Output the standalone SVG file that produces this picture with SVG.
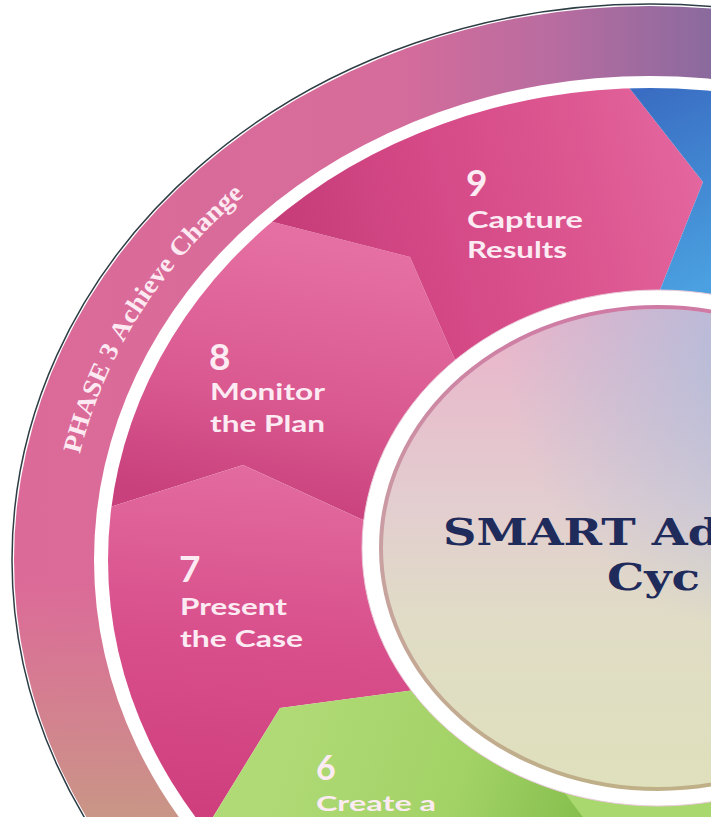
<svg xmlns="http://www.w3.org/2000/svg" width="711" height="817" viewBox="0 0 711 817">
<defs>
  <style>
    .lbl { font-family: Lato, "Open Sans", "DejaVu Sans", sans-serif; font-weight: 700; fill: #fcebf3; }
    .num { font-size: 37px; }
    .txt { font-size: 23px; }
    .title { font-family: "DejaVu Serif", "Liberation Serif", serif; font-weight: 700; font-size: 37px; fill: #1f2b5b; }
    .phase { font-family: "Liberation Serif", "DejaVu Serif", serif; font-weight: 700; font-size: 26px; fill: #fde9f1; }
  </style>
  <linearGradient id="bandH" gradientUnits="userSpaceOnUse" x1="0" y1="0" x2="711" y2="0">
    <stop offset="0" stop-color="#dc6a98"/>
    <stop offset="0.55" stop-color="#d66c9b"/>
    <stop offset="0.78" stop-color="#b86ca0"/>
    <stop offset="1" stop-color="#8a6a9e"/>
  </linearGradient>
  <linearGradient id="bandV" gradientUnits="userSpaceOnUse" x1="0" y1="580" x2="0" y2="817">
    <stop offset="0" stop-color="#d0908a" stop-opacity="0"/>
    <stop offset="1" stop-color="#c99686" stop-opacity="1"/>
  </linearGradient>
  <linearGradient id="g9" gradientUnits="userSpaceOnUse" x1="280" y1="250" x2="700" y2="150">
    <stop offset="0" stop-color="#c53c78"/>
    <stop offset="0.35" stop-color="#d44886"/>
    <stop offset="0.7" stop-color="#dc5690"/>
    <stop offset="1" stop-color="#e4679f"/>
  </linearGradient>
  <linearGradient id="g8" gradientUnits="userSpaceOnUse" x1="300" y1="240" x2="250" y2="510">
    <stop offset="0" stop-color="#e56fa2"/>
    <stop offset="0.6" stop-color="#d9588f"/>
    <stop offset="1" stop-color="#c8407c"/>
  </linearGradient>
  <linearGradient id="g7" gradientUnits="userSpaceOnUse" x1="250" y1="470" x2="220" y2="810">
    <stop offset="0" stop-color="#e26a9e"/>
    <stop offset="0.5" stop-color="#d84f8b"/>
    <stop offset="1" stop-color="#cf3f7e"/>
  </linearGradient>
  <linearGradient id="gBlue" gradientUnits="userSpaceOnUse" x1="620" y1="80" x2="711" y2="280">
    <stop offset="0" stop-color="#3868c0"/>
    <stop offset="1" stop-color="#4aa0e0"/>
  </linearGradient>
  <linearGradient id="g6" gradientUnits="userSpaceOnUse" x1="290" y1="710" x2="585" y2="810">
    <stop offset="0" stop-color="#b0da76"/>
    <stop offset="0.6" stop-color="#a2d266"/>
    <stop offset="1" stop-color="#86bf4e"/>
  </linearGradient>
  <linearGradient id="discV" x1="0" y1="0" x2="0" y2="1">
    <stop offset="0" stop-color="#eab2c9"/>
    <stop offset="0.4" stop-color="#e3cdd0"/>
    <stop offset="0.65" stop-color="#e0dcc6"/>
    <stop offset="1" stop-color="#dfe0bc"/>
  </linearGradient>
  <radialGradient id="discBlue" gradientUnits="userSpaceOnUse" cx="800" cy="340" r="300">
    <stop offset="0" stop-color="#a4bedf" stop-opacity="0.95"/>
    <stop offset="1" stop-color="#a4bedf" stop-opacity="0"/>
  </radialGradient>
  <linearGradient id="rim" x1="0" y1="0" x2="0" y2="1">
    <stop offset="0" stop-color="#cf7aa4"/>
    <stop offset="0.5" stop-color="#c9a0a2"/>
    <stop offset="1" stop-color="#bfb088"/>
  </linearGradient>
  <clipPath id="segClip">
    <ellipse cx="650" cy="560" rx="542" ry="472"/>
  </clipPath>
  <path id="phaseArc" d="M 75.9 471.8 A 583 508 0 0 1 450.6 82.6"/>
</defs>

<rect width="711" height="817" fill="#ffffff"/>

<g id="outer-ring">
  <ellipse cx="650" cy="560" rx="638" ry="556" fill="#ffffff" stroke="#2e3d45" stroke-width="1.5"/>
  <ellipse cx="650" cy="560" rx="636" ry="554" fill="url(#bandH)"/>
  <ellipse cx="650" cy="560" rx="636" ry="554" fill="url(#bandV)"/>
  <ellipse cx="650" cy="560" rx="556" ry="484" fill="#ffffff"/>
</g>

<g id="phase-label">
  <text class="phase"><textPath href="#phaseArc" startOffset="18" textLength="113" lengthAdjust="spacingAndGlyphs">PHASE 3</textPath></text>
  <text class="phase"><textPath href="#phaseArc" startOffset="138" textLength="94" lengthAdjust="spacingAndGlyphs">Achieve</textPath></text>
  <text class="phase"><textPath href="#phaseArc" startOffset="239" textLength="91" lengthAdjust="spacingAndGlyphs">Change</textPath></text>
</g>

<g id="segments" clip-path="url(#segClip)">
  <g id="segment-8">
    <polygon points="180,180 230,211 273,222 410,257 455,360 420,540 363,520 243,465 110,507 60,510 60,200" fill="url(#g8)"/>
  </g>
  <g id="segment-9">
    <polygon points="230,211 273,222 410,257 455,360 520,330 640,300 660,290 703,182 627,85 600,50 200,100" fill="url(#g9)"/>
  </g>
  <g id="segment-1">
    <polygon points="600,50 627,85 703,182 660,290 640,330 720,330 720,0 600,0" fill="url(#gBlue)"/>
  </g>
  <g id="segment-7">
    <polygon points="60,520 110,507 243,465 363,520 420,600 415,690 280,708 213,817 199,840 60,840" fill="url(#g7)"/>
  </g>
  <g id="segment-6">
    <polygon points="280,708 415,690 500,700 720,760 720,840 199,840 213,817" fill="url(#g6)"/>
  </g>
  <g id="segment-5">
    <polygon points="540,760 600,840 720,840 720,760" fill="#a8d86e"/>
  </g>
</g>

<g id="center-disc">
  <ellipse cx="658" cy="548" rx="296" ry="258" fill="#ffffff" stroke="#e9c9d8" stroke-width="1"/>
  <ellipse cx="658" cy="548" rx="277" ry="241" fill="url(#discV)" stroke="url(#rim)" stroke-width="4"/>
  <ellipse cx="658" cy="548" rx="275" ry="239" fill="url(#discBlue)"/>
  <text class="title" x="443" y="545" textLength="277" lengthAdjust="spacingAndGlyphs">SMART Ad</text>
  <text class="title" x="607" y="590" textLength="93" lengthAdjust="spacingAndGlyphs">Cyc</text>
</g>

<g id="label-9" class="lbl">
  <text class="num" x="466" y="196">9</text>
  <text class="txt" x="467" y="228" textLength="116" lengthAdjust="spacingAndGlyphs">Capture</text>
  <text class="txt" x="467" y="258" textLength="100" lengthAdjust="spacingAndGlyphs">Results</text>
</g>
<g id="label-8" class="lbl">
  <text class="num" x="209" y="370">8</text>
  <text class="txt" x="210" y="400" textLength="115" lengthAdjust="spacingAndGlyphs">Monitor</text>
  <text class="txt" x="210" y="432" textLength="115" lengthAdjust="spacingAndGlyphs">the Plan</text>
</g>
<g id="label-7" class="lbl">
  <text class="num" x="179" y="582">7</text>
  <text class="txt" x="180" y="615" textLength="107" lengthAdjust="spacingAndGlyphs">Present</text>
  <text class="txt" x="180" y="647" textLength="123" lengthAdjust="spacingAndGlyphs">the Case</text>
</g>
<g id="label-6" class="lbl">
  <text x="316" y="780" style="font-size:34px">6</text>
  <text x="316" y="811" style="font-size:21px" textLength="120" lengthAdjust="spacingAndGlyphs">Create a</text>
</g>

<g id="connectors"/>
</svg>
